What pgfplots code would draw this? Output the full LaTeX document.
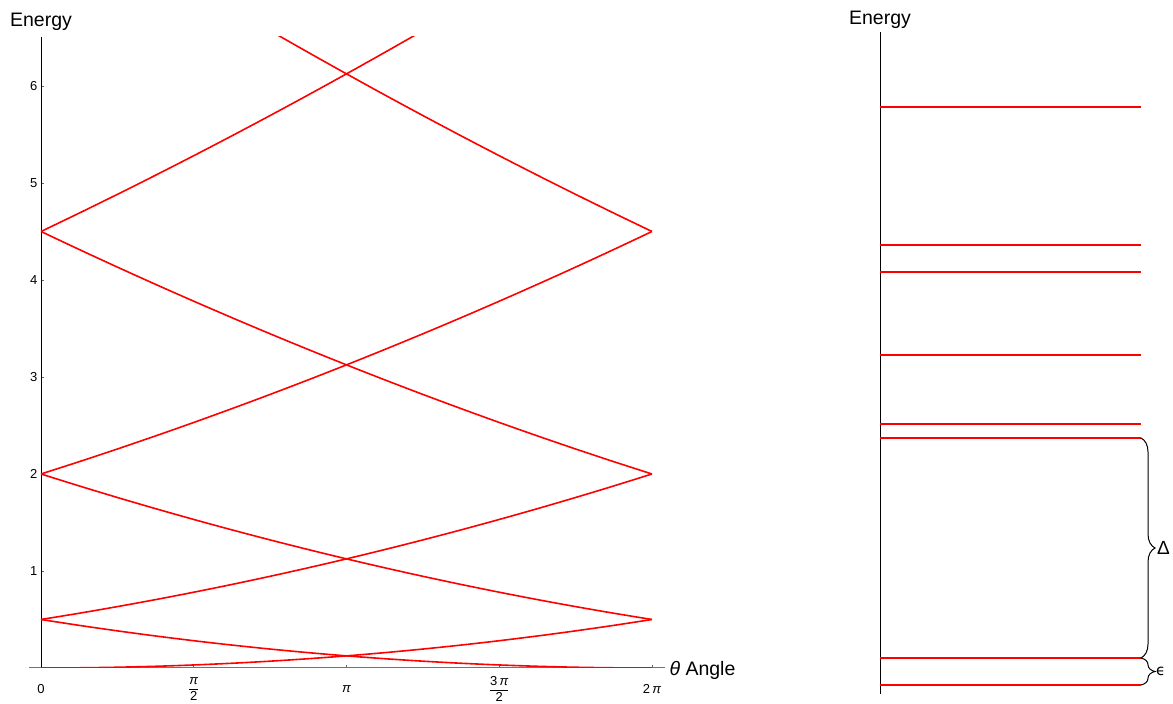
\documentclass[border=0pt]{standalone}
\usepackage{fontspec}
\setmainfont{Liberation Sans}
\newfontfamily\dejavu{DejaVu Sans}
\usepackage{pgfplots}
\pgfplotsset{compat=1.18}
\usepackage{pgfplotstable}
\usetikzlibrary{decorations.pathreplacing}

\pgfplotstableread{
th        e0        e1        e2        e3        f0        f1        f2        f3
0.000000  0.000000  0.500000  2.000000  4.500000  0.500000  2.000000  4.500000  8.000000
0.392699  0.001953  0.564453  2.126953  4.689453  0.439453  1.876953  4.314453  7.751953
0.785398  0.007813  0.632813  2.257813  4.882813  0.382813  1.757813  4.132813  7.507813
1.178097  0.017578  0.705078  2.392578  5.080078  0.330078  1.642578  3.955078  7.267578
1.570796  0.031250  0.781250  2.531250  5.281250  0.281250  1.531250  3.781250  7.031250
1.963495  0.048828  0.861328  2.673828  5.486328  0.236328  1.423828  3.611328  6.798828
2.356194  0.070313  0.945313  2.820313  5.695313  0.195313  1.320313  3.445313  6.570313
2.748894  0.095703  1.033203  2.970703  5.908203  0.158203  1.220703  3.283203  6.345703
3.141593  0.125000  1.125000  3.125000  6.125000  0.125000  1.125000  3.125000  6.125000
3.534292  0.158203  1.220703  3.283203  6.345703  0.095703  1.033203  2.970703  5.908203
3.926991  0.195313  1.320313  3.445313  6.570313  0.070313  0.945313  2.820313  5.695313
4.319690  0.236328  1.423828  3.611328  6.798828  0.048828  0.861328  2.673828  5.486328
4.712389  0.281250  1.531250  3.781250  7.031250  0.031250  0.781250  2.531250  5.281250
5.105088  0.330078  1.642578  3.955078  7.267578  0.017578  0.705078  2.392578  5.080078
5.497787  0.382813  1.757813  4.132813  7.507813  0.007813  0.632813  2.257813  4.882813
5.890486  0.439453  1.876953  4.314453  7.751953  0.001953  0.564453  2.126953  4.689453
6.283185  0.500000  2.000000  4.500000  8.000000  0.000000  0.500000  2.000000  4.500000
}\bands

\pgfplotstableread{
lvl
0.09
0.36
2.56
2.70
3.39
4.22
4.49
5.87
}\levels

\begin{document}
\begin{tikzpicture}[x=1pt,y=1pt]
\begin{axis}[
  at={(29pt,36pt)}, anchor=south west,
  scale only axis, width=636pt, height=631pt,
  xmin=-0.1234, xmax=6.417, ymin=0, ymax=6.505,
  axis lines=middle, axis line style={-},
  x axis line style={black!55, line width=1pt},
  y axis line style={black, line width=0.9pt},
  xtick={0,1.570796,3.141593,4.712389,6.283185},
  xticklabels={{0},{$\displaystyle\frac{\mbox{\itshape π}}{\mbox{2}}$},{\itshape π},{$\displaystyle\frac{\mbox{3\,\itshape π}}{\mbox{2}}$},{2\,\itshape π}},
  ytick={1,2,3,4,5,6},
  /pgf/number format/assume math mode=true,
  tick align=inside, major tick length=3pt,
  tick style={black!60, line width=0.6pt},
  hide obscured x ticks=false, hide obscured y ticks=false,
  ticklabel style={font=\fontsize{13}{15}\selectfont},
  xticklabel style={anchor=center, yshift=-21pt},
  yticklabel style={anchor=east},
  every axis x label/.style={at={(axis cs:6.417,0)}, anchor=base west, yshift=-8pt, xshift=1pt, font=\fontsize{19.5}{22}\selectfont},
  every axis y label/.style={at={(axis cs:0,6.505)}, anchor=base, yshift=10pt, font=\fontsize{19.5}{22}\selectfont},
  xlabel={\textit{θ} Angle},
  ylabel={Energy},
  clip=true,
]
\addplot[red, line width=1.6pt, smooth] table[x=th, y=e0] {\bands};
\addplot[red, line width=1.6pt, smooth] table[x=th, y=e1] {\bands};
\addplot[red, line width=1.6pt, smooth] table[x=th, y=e2] {\bands};
\addplot[red, line width=1.6pt, smooth] table[x=th, y=e3] {\bands};
\addplot[red, line width=1.6pt, smooth] table[x=th, y=f0] {\bands};
\addplot[red, line width=1.6pt, smooth] table[x=th, y=f1] {\bands};
\addplot[red, line width=1.6pt, smooth] table[x=th, y=f2] {\bands};
\addplot[red, line width=1.6pt, smooth] table[x=th, y=f3] {\bands};
\end{axis}

\begin{axis}[
  at={(880pt,10pt)}, anchor=south west,
  scale only axis, width=261pt, height=662pt,
  xmin=0, xmax=1, ymin=0, ymax=6.62,
  axis x line=none, axis y line=left,
  axis line style={-, black, line width=0.9pt},
  xtick=\empty, ytick=\empty,
  clip=false,
  every axis y label/.style={at={(axis cs:0,6.62)}, anchor=base, yshift=7pt, font=\fontsize{19.5}{22}\selectfont},
  ylabel={Energy},
]
\pgfplotsinvokeforeach{0,...,7}{
  \pgfplotstablegetelem{#1}{lvl}\of{\levels}
  \edef\temp{\noexpand\addplot[red, line width=1.5pt] coordinates {(0,\pgfplotsretval) (1,\pgfplotsretval)};}
  \temp
}
\draw[black, line width=1pt, decorate, decoration={brace, amplitude=14pt}] (axis cs:1,2.56) -- (axis cs:1,0.36);
\draw[black, line width=1pt, decorate, decoration={brace, amplitude=14pt}] (axis cs:1,0.36) -- (axis cs:1,0.09);
\node[anchor=west, inner sep=0pt, xshift=16pt, font=\fontsize{19}{21}\selectfont] at (axis cs:1,1.46) {Δ};
\node[anchor=west, inner sep=0pt, xshift=15pt, font=\dejavu\fontsize{15}{17}\selectfont] at (axis cs:1,0.225) {ϵ};
\end{axis}
\pgfresetboundingbox
\path[use as bounding box] (0,0) rectangle (1173pt,704pt);
\end{tikzpicture}
\end{document}
